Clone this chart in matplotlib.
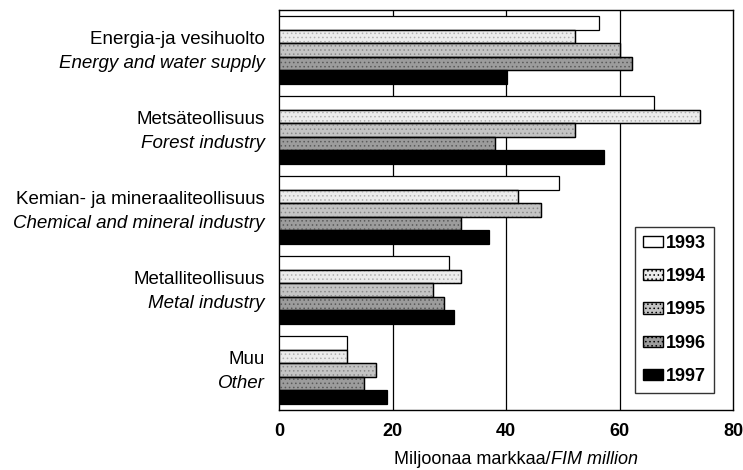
import matplotlib
matplotlib.use("Agg")
import matplotlib.pyplot as plt
from matplotlib.patches import Patch
import matplotlib.transforms as mtransforms

categories_fi = ["Energia-ja vesihuolto", "Metsäteollisuus", "Kemian- ja mineraaliteollisuus",
                 "Metalliteollisuus", "Muu"]
categories_en = ["Energy and water supply", "Forest industry", "Chemical and mineral industry",
                 "Metal industry", "Other"]
years = ["1993", "1994", "1995", "1996", "1997"]
v1993 = [56.3, 66.1, 49.3, 30.0, 12.0]
v1994 = [52.2, 74.1, 42.2, 32.0, 12.0]
v1995 = [60.1, 52.2, 46.1, 27.1, 17.1]
v1996 = [62.2, 38.1, 32.0, 29.0, 15.0]
v1997 = [40.1, 57.2, 37.0, 30.9, 19.1]
series = [v1993, v1994, v1995, v1996, v1997]
xticks = [0, 20, 40, 60, 80]

faces = ["white", "#ececec", "#c4c4c4", "#9c9c9c", "black"]
hatches = [None, "....", "....", "....", None]
hatch_cols = [None, "#b0b0b0", "#8a8a8a", "#5a5a5a", None]

FONT = ["Liberation Sans Narrow", "Liberation Sans", "DejaVu Sans"]
plt.rcParams["font.family"] = FONT
plt.rcParams["hatch.linewidth"] = 0.6

fig = plt.figure(figsize=(7.43, 4.70), dpi=100)
ax = fig.add_axes([279/743, 60/470, 454/743, 400/470])

n = len(years)
bh = 0.166
for j, vals in enumerate(series):
    for i, v in enumerate(vals):
        y = i + (j - (n - 1) / 2) * (bh + 0.003)
        ax.barh(y, v, height=bh, color=faces[j], edgecolor="black", linewidth=0.9, zorder=3)
        if hatches[j]:
            ax.barh(y, v, height=bh, color="none", edgecolor=hatch_cols[j], hatch=hatches[j],
                    linewidth=0, zorder=3.5)
            ax.barh(y, v, height=bh, color="none", edgecolor="black", linewidth=0.9, zorder=4)

ax.set_xlim(0, 80)
ax.set_ylim(len(categories_fi) - 0.5, -0.5)
ax.set_xticks(xticks)
ax.set_xticklabels([str(t) for t in xticks], fontsize=13, fontweight="bold")
ax.set_yticks([])
ax.tick_params(axis="x", length=0, pad=9)
for t in xticks[1:-1]:
    ax.axvline(t, color="black", linewidth=0.9, zorder=1)
for s in ax.spines.values():
    s.set_linewidth(1.0)

trans = mtransforms.blended_transform_factory(ax.transAxes, ax.transData)
for i, (fi, en) in enumerate(zip(categories_fi, categories_en)):
    ax.text(-0.031, i - 0.13, fi, transform=trans, ha="right", va="center", fontsize=13.5)
    ax.text(-0.031, i + 0.17, en, transform=trans, ha="right", va="center", fontsize=13.5,
            fontstyle="italic")

# x label: normal + italic parts
t1 = fig.text(0.0, 0.022, "Miljoonaa markkaa/", fontsize=13, ha="left", va="center")
fig.canvas.draw()
r = fig.canvas.get_renderer()
w1 = t1.get_window_extent(r).width
t2 = fig.text(0, 0.022, "FIM million", fontsize=13, fontstyle="italic", ha="left", va="center")
w2 = t2.get_window_extent(r).width
cx = 516
start = cx - (w1 + w2) / 2
t1.set_x(start / 743)
t2.set_x((start + w1) / 743)

handles = [Patch(facecolor=faces[j], edgecolor="black", hatch=hatches[j]) for j in range(n)]
leg = ax.legend(handles, years, loc="lower right", bbox_to_anchor=(0.958, 0.0425),
                frameon=True, fancybox=False, edgecolor="black",
                handlelength=1.1, handleheight=0.6, handletextpad=0.15, labelspacing=0.9,
                borderpad=0.45, borderaxespad=0.0,
                prop={"family": FONT, "size": 13, "weight": "bold"})
leg.get_frame().set_linewidth(1.0)
leg.set_zorder(6)

fig.savefig("out.png", dpi=100)
